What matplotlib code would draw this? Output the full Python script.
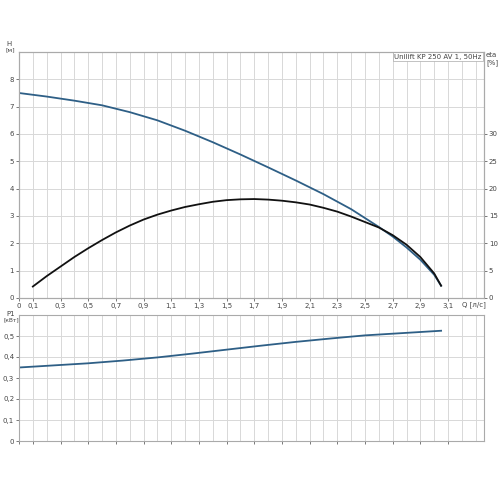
import matplotlib
matplotlib.use("Agg")
import matplotlib.pyplot as plt
import numpy as np

q_h = [0, 0.2, 0.4, 0.6, 0.8, 1.0, 1.2, 1.4, 1.6, 1.8, 2.0, 2.2, 2.4, 2.6, 2.7, 2.8, 2.9, 3.0, 3.05]
h = [7.5, 7.37, 7.22, 7.05, 6.8, 6.5, 6.12, 5.7, 5.25, 4.78, 4.3, 3.8, 3.25, 2.6, 2.25, 1.85, 1.4, 0.85, 0.45]
q_eta = [0.1, 0.2, 0.3, 0.4, 0.5, 0.6, 0.7, 0.8, 0.9, 1.0, 1.1, 1.2, 1.3, 1.4, 1.5, 1.6, 1.7, 1.8,
         1.9, 2.0, 2.1, 2.2, 2.3, 2.4, 2.5, 2.6, 2.7, 2.8, 2.9, 3.0, 3.05]
eta = [2.1, 4.0, 5.75, 7.5, 9.1, 10.6, 12.0, 13.25, 14.35, 15.25, 16.0, 16.65, 17.15, 17.6, 17.9, 18.05,
       18.1, 18.0, 17.8, 17.5, 17.1, 16.5, 15.8, 14.9, 13.9, 12.9, 11.5, 9.75, 7.5, 4.5, 2.25]
q_p = [0, 0.25, 0.5, 0.75, 1.0, 1.25, 1.5, 1.75, 2.0, 2.25, 2.5, 2.75, 3.05]
p1 = [0.35, 0.36, 0.37, 0.383, 0.398, 0.416, 0.435, 0.454, 0.472, 0.488, 0.503, 0.513, 0.525]
xticks = [0, 0.1, 0.3, 0.5, 0.7, 0.9, 1.1, 1.3, 1.5, 1.7, 1.9, 2.1, 2.3, 2.5, 2.7, 2.9, 3.1]

def fmt(v):
    return ("%g" % v).replace(".", ",")

fs = 5.0
tc = "#444444"
fig = plt.figure(figsize=(5, 5), dpi=100)
ax = fig.add_axes([0.038, 0.404, 0.93, 0.492])
ax2 = ax.twinx()
axb = fig.add_axes([0.038, 0.118, 0.93, 0.252])

def style(a):
    a.set_xlim(0, 3.36)
    a.set_xticks(np.arange(0, 3.36, 0.1), minor=True)
    a.grid(True, which="both", color="#d8d8d8", lw=0.7)
    a.set_axisbelow(True)
    for s in a.spines.values():
        s.set_color("#aaaaaa")
    a.tick_params(labelsize=fs, colors=tc, length=2, width=0.5, pad=1.5)
    a.tick_params(which="minor", length=0)

style(ax)
ax.set_ylim(0, 9)
ax.set_yticks(range(0, 9))
ax.set_xticks(xticks)
ax.set_xticklabels([fmt(v) for v in xticks])
ax.plot(q_h, h, color="#2e5f86", lw=1.3)
ax2.set_ylim(0, 45)
ax2.set_yticks(range(0, 31, 5))
ax2.tick_params(labelsize=fs, colors=tc, length=2, width=0.5, pad=1.5)
for s in ax2.spines.values():
    s.set_color("#aaaaaa")
ax2.plot(q_eta, eta, color="#111111", lw=1.3)
fig.text(0.012, 0.905, "H", ha="left", va="bottom", fontsize=fs, color=tc)
fig.text(0.012, 0.905, "[м]", ha="left", va="top", fontsize=4.5, color=tc)
fig.text(0.972, 0.896, "eta\n[%]", ha="left", va="top", fontsize=fs, color=tc, linespacing=1.2)
ax.text(0.995, 0.993, "Unilift KP 250 AV 1, 50Hz", transform=ax.transAxes, ha="right", va="top",
        fontsize=fs, color=tc, bbox=dict(facecolor="white", edgecolor="#aaaaaa", lw=0.5, pad=1.2))
ax.text(3.2, -0.12, "Q [л/с]", ha="left", va="top", fontsize=fs, color=tc)

style(axb)
axb.set_ylim(0, 0.6)
axb.set_yticks([0, 0.1, 0.2, 0.3, 0.4, 0.5])
axb.set_yticklabels([fmt(v) for v in [0, 0.1, 0.2, 0.3, 0.4, 0.5]])
axb.set_xticks(xticks)
axb.set_xticklabels([])
axb.plot(q_p, p1, color="#2e5f86", lw=1.3)
fig.text(0.012, 0.365, "P1", ha="left", va="bottom", fontsize=fs, color=tc)
fig.text(0.008, 0.365, "[кВт]", ha="left", va="top", fontsize=4.2, color=tc)

fig.savefig("out.png", dpi=100)
